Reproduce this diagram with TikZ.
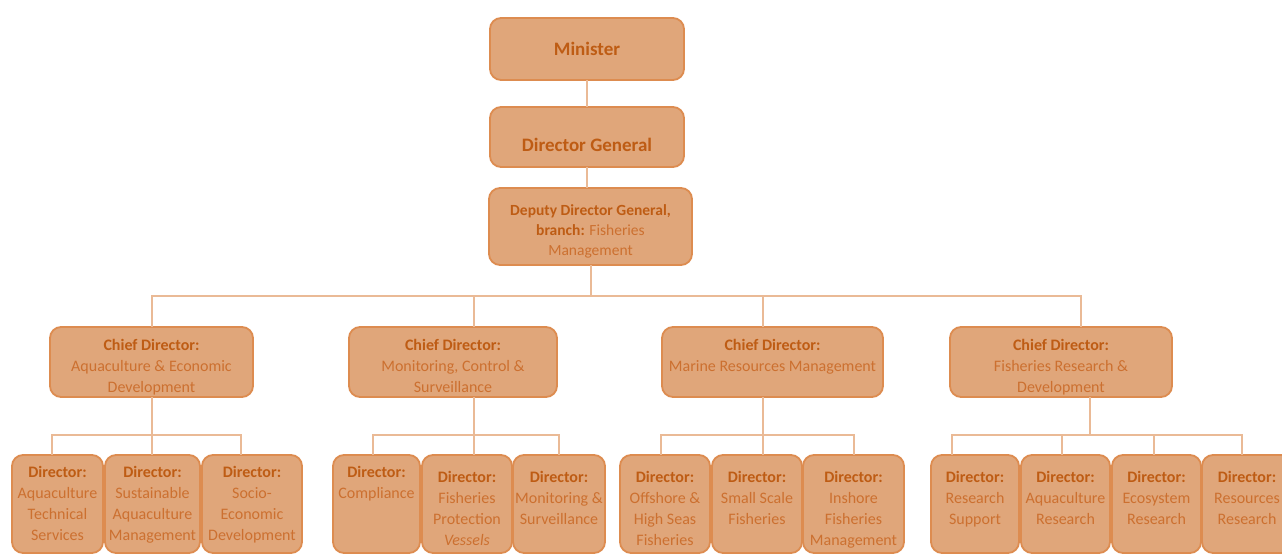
\documentclass[tikz,border=0pt]{standalone}
\usepackage{fontspec}
\setmainfont{Carlito}

\definecolor{boxfill}{RGB}{224,166,122}
\definecolor{boxedge}{RGB}{221,140,80}
\definecolor{headtext}{RGB}{190,92,20}
\definecolor{bodytext}{RGB}{204,112,48}
\definecolor{linkline}{RGB}{234,186,150}

% bold heading inside a box
\newcommand{\hd}[1]{{\color{headtext}\bfseries #1}}
% box body: height, width, top pad, lines
\newcommand{\orgtext}[4]{\parbox[c][#1][t]{#2}{\centering\vspace*{#3}\begin{tabular}{@{}c@{}}#4\end{tabular}\par}}

\begin{document}
\begin{tikzpicture}[x=1pt,y=-1pt,inner sep=0pt,outer sep=0pt,
    orgbox/.style={draw=boxedge, fill=boxfill, line width=1.8pt, rounded corners=11pt, anchor=north west, text=bodytext},
    topfont/.style={font=\fontsize{19}{22}\selectfont},
    midfont/.style={font=\fontsize{15.5}{20}\selectfont},
    lowfont/.style={font=\fontsize{16}{21}\selectfont},
    link/.style={draw=linkline, line width=2pt}]
    \useasboundingbox (0,0) rectangle (1282,554);
    \clip (0,0) rectangle (1282,554);

    % top of the chain
    \node[orgbox, topfont, minimum width=194pt, minimum height=62pt] (minister) at (490,18) {\hd{Minister}};
    \node[orgbox, topfont] (dg) at (490,107) {\orgtext{60pt}{194pt}{29pt}{\hd{Director General}}};
    \node[orgbox, midfont] (ddg) at (489,188) {\orgtext{77pt}{203pt}{13pt}{\hd{Deputy Director General,}\\ \hd{branch:} Fisheries\\ Management}};

    % chief directors
    \node[orgbox, lowfont] (cd1) at (50,327) {\orgtext{70pt}{203pt}{9pt}{\hd{Chief Director:}\\ Aquaculture \& Economic\\ Development}};
    \node[orgbox, lowfont] (cd2) at (349,327) {\orgtext{70pt}{208pt}{9pt}{\hd{Chief Director:}\\ Monitoring, Control \&\\ Surveillance}};
    \node[orgbox, lowfont] (cd3) at (662,327) {\orgtext{70pt}{221pt}{9pt}{\hd{Chief Director:}\\ Marine Resources Management}};
    \node[orgbox, lowfont] (cd4) at (950,327) {\orgtext{70pt}{222pt}{9pt}{\hd{Chief Director:}\\ Fisheries Research \&\\ Development}};

    % directors, aquaculture
    \node[orgbox, lowfont] (d1) at (12,455) {\orgtext{98pt}{91pt}{8pt}{\hd{Director:}\\ Aquaculture\\ Technical\\ Services}};
    \node[orgbox, lowfont] (d2) at (105,455) {\orgtext{98pt}{95pt}{8pt}{\hd{Director:}\\ Sustainable\\ Aquaculture\\ Management}};
    \node[orgbox, lowfont] (d3) at (202,455) {\orgtext{98pt}{100pt}{8pt}{\hd{Director:}\\ Socio-\\ Economic\\ Development}};
    % directors, monitoring
    \node[orgbox, lowfont] (d4) at (333,455) {\orgtext{98pt}{87pt}{8pt}{\hd{Director:}\\ Compliance}};
    \node[orgbox, lowfont] (d5) at (422,455) {\orgtext{98pt}{90pt}{13pt}{\hd{Director:}\\ Fisheries\\ Protection\\ \textit{Vessels}}};
    \node[orgbox, lowfont] (d6) at (513,455) {\orgtext{98pt}{92pt}{13pt}{\hd{Director:}\\ Monitoring \&\\ Surveillance}};
    % directors, marine resources
    \node[orgbox, lowfont] (d7) at (620,455) {\orgtext{98pt}{90pt}{13pt}{\hd{Director:}\\ Offshore \&\\ High Seas\\ Fisheries}};
    \node[orgbox, lowfont] (d8) at (712,455) {\orgtext{98pt}{90pt}{13pt}{\hd{Director:}\\ Small Scale\\ Fisheries}};
    \node[orgbox, lowfont] (d9) at (803,455) {\orgtext{98pt}{101pt}{13pt}{\hd{Director:}\\ Inshore\\ Fisheries\\ Management}};
    % directors, research
    \node[orgbox, lowfont] (d10) at (931,455) {\orgtext{98pt}{88pt}{13pt}{\hd{Director:}\\ Research\\ Support}};
    \node[orgbox, lowfont] (d11) at (1021,455) {\orgtext{98pt}{89pt}{13pt}{\hd{Director:}\\ Aquaculture\\ Research}};
    \node[orgbox, lowfont] (d12) at (1112,455) {\orgtext{98pt}{89pt}{13pt}{\hd{Director:}\\ Ecosystem\\ Research}};
    \node[orgbox, lowfont] (d13) at (1202,455) {\orgtext{98pt}{90pt}{13pt}{\hd{Director:}\\ Resources\\ Research}};

    % links, top
    \draw[link] (minister.south) -- (dg.north);
    \draw[link] (dg.south) -- (dg.south |- ddg.north);
    \draw[link] (ddg.south) -- ++(0,31) coordinate (hub);
    \draw[link] (hub) -| (cd1.north);
    \draw[link] (hub) -| ([xshift=21]cd2.north);
    \draw[link] (hub) -| ([xshift=-10]cd3.north);
    \draw[link] (hub) -| ([xshift=20]cd4.north);

    % links, directors
    \draw[link] (cd1.south) -- ++(0,38) coordinate (g1);
    \draw[link] (g1) -| ([xshift=-6]d1.north);
    \draw[link] (g1) -- (g1 |- d2.north);
    \draw[link] (g1) -| ([xshift=-11]d3.north);

    \draw[link] ([xshift=21]cd2.south) -- ++(0,38) coordinate (g2);
    \draw[link] (g2) -| ([xshift=-4]d4.north);
    \draw[link] (g2) -- (g2 |- d5.north);
    \draw[link] (g2) -| (d6.north);

    \draw[link] ([xshift=-10]cd3.south) -- ++(0,38) coordinate (g3);
    \draw[link] (g3) -| ([xshift=-4]d7.north);
    \draw[link] (g3) -- (g3 |- d8.north);
    \draw[link] (g3) -| (d9.north);

    \draw[link] ([xshift=29]cd4.south) -- ++(0,38) coordinate (g4);
    \draw[link] (g4) -| ([xshift=-23]d10.north);
    \draw[link] (g4) -| ([xshift=-4]d11.north);
    \draw[link] (g4) -| ([xshift=-3]d12.north);
    \draw[link] (g4) -| ([xshift=-5]d13.north);

\end{tikzpicture}
\end{document}
